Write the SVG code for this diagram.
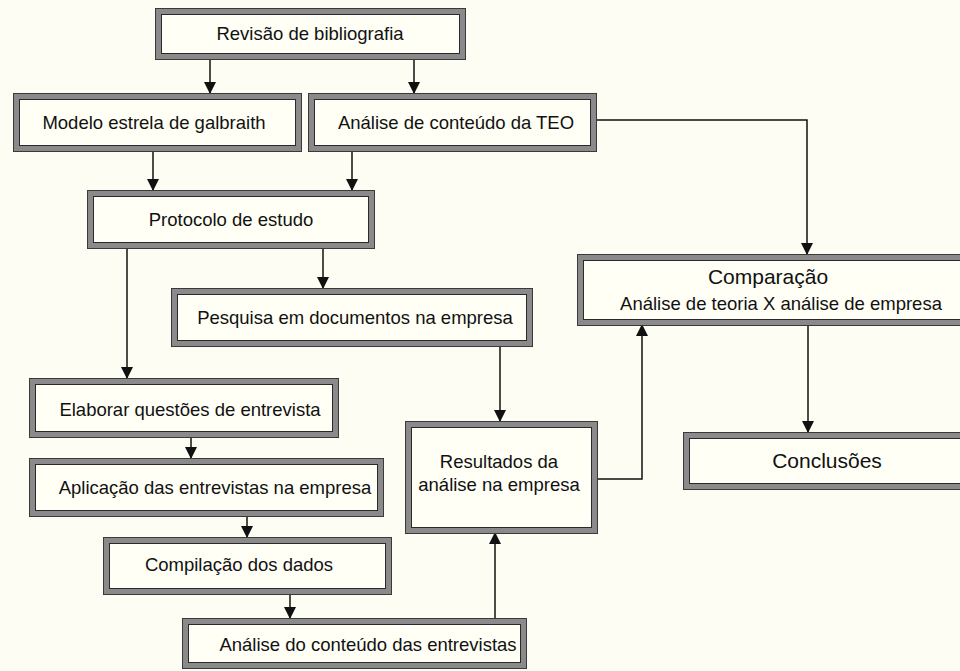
<svg xmlns="http://www.w3.org/2000/svg" width="960" height="671" viewBox="0 0 960 671">
<defs>
<marker id="arr" markerWidth="12" markerHeight="12" refX="11" refY="6" orient="auto" markerUnits="userSpaceOnUse">
<path d="M0,0 L12,6 L0,12 Z" fill="#111"/>
</marker>
</defs>
<style>
.outer{fill:#8a8a8a;stroke:#3a3a3a;stroke-width:1}
.inner{fill:#fffff6;stroke:#2a2a2a;stroke-width:1}
.t{font-family:"Liberation Sans",Arial,sans-serif;font-size:18.5px;fill:#111;text-anchor:middle}
.big{font-size:21px}
.c{fill:none;stroke:#111;stroke-width:1.5}
</style>
<rect x="0" y="0" width="960" height="671" fill="#fdfdf3"/>
<g id="connectors">
<line class="c" x1="210" y1="59" x2="210" y2="93" marker-end="url(#arr)"/>
<line class="c" x1="414" y1="59" x2="414" y2="93" marker-end="url(#arr)"/>
<line class="c" x1="153" y1="151" x2="153" y2="190" marker-end="url(#arr)"/>
<line class="c" x1="352" y1="151" x2="352" y2="190" marker-end="url(#arr)"/>
<polyline class="c" points="596,120 807,120 807,254" marker-end="url(#arr)"/>
<line class="c" x1="127" y1="248" x2="127" y2="378" marker-end="url(#arr)"/>
<line class="c" x1="323" y1="248" x2="323" y2="288" marker-end="url(#arr)"/>
<line class="c" x1="500" y1="346" x2="500" y2="421" marker-end="url(#arr)"/>
<polyline class="c" points="597,479 642,479 642,325" marker-end="url(#arr)"/>
<line class="c" x1="808" y1="325" x2="808" y2="432" marker-end="url(#arr)"/>
<line class="c" x1="191" y1="437" x2="191" y2="458" marker-end="url(#arr)"/>
<line class="c" x1="247" y1="516" x2="247" y2="537" marker-end="url(#arr)"/>
<line class="c" x1="290" y1="594" x2="290" y2="618" marker-end="url(#arr)"/>
<line class="c" x1="495" y1="618" x2="495" y2="533" marker-end="url(#arr)"/>
</g>
<g id="revisao">
<rect class="outer" x="155.5" y="8.5" width="310" height="51"/>
<rect class="inner" x="161.5" y="14.5" width="298" height="39"/>
<text class="t" x="310" y="40">Revisão de bibliografia</text>
</g>
<g id="modelo">
<rect class="outer" x="13.5" y="93.5" width="288" height="58"/>
<rect class="inner" x="19.5" y="99.5" width="276" height="46"/>
<text class="t" x="154" y="129">Modelo estrela de galbraith</text>
</g>
<g id="teo">
<rect class="outer" x="308.5" y="93.5" width="288" height="58"/>
<rect class="inner" x="314.5" y="99.5" width="276" height="46"/>
<text class="t" x="456" y="129">Análise de conteúdo da TEO</text>
</g>
<g id="protocolo">
<rect class="outer" x="87.5" y="190.5" width="287" height="58"/>
<rect class="inner" x="93.5" y="196.5" width="275" height="46"/>
<text class="t" x="231" y="226">Protocolo de estudo</text>
</g>
<g id="comparacao">
<rect class="outer" x="577.5" y="254.5" width="390" height="71"/>
<rect class="inner" x="583.5" y="260.5" width="378" height="59"/>
<text class="t big" x="768" y="284">Comparação</text>
<text class="t" x="781" y="310">Análise de teoria X análise de empresa</text>
</g>
<g id="pesquisa">
<rect class="outer" x="171.5" y="288.5" width="361" height="58"/>
<rect class="inner" x="177.5" y="294.5" width="349" height="46"/>
<text class="t" x="355" y="324">Pesquisa em documentos na empresa</text>
</g>
<g id="elaborar">
<rect class="outer" x="29.5" y="378.5" width="309" height="59"/>
<rect class="inner" x="35.5" y="384.5" width="297" height="47"/>
<text class="t" x="190" y="416">Elaborar questões de entrevista</text>
</g>
<g id="resultados">
<rect class="outer" x="405.5" y="421.5" width="192" height="112"/>
<rect class="inner" x="411.5" y="427.5" width="180" height="100"/>
<text class="t" x="499" y="468">Resultados da</text>
<text class="t" x="499" y="491">análise na empresa</text>
</g>
<g id="conclusoes">
<rect class="outer" x="683.5" y="432.5" width="284" height="57"/>
<rect class="inner" x="689.5" y="438.5" width="272" height="45"/>
<text class="t big" x="827" y="468">Conclusões</text>
</g>
<g id="aplicacao">
<rect class="outer" x="29.5" y="458.5" width="354" height="58"/>
<rect class="inner" x="35.5" y="464.5" width="342" height="46"/>
<text class="t" x="215" y="494">Aplicação das entrevistas na empresa</text>
</g>
<g id="compilacao">
<rect class="outer" x="103.5" y="537.5" width="288" height="57"/>
<rect class="inner" x="109.5" y="543.5" width="276" height="45"/>
<text class="t" x="239" y="571">Compilação dos dados</text>
</g>
<g id="analise-entrevistas">
<rect class="outer" x="182.5" y="618.5" width="344" height="50"/>
<rect class="inner" x="188.5" y="624.5" width="332" height="38"/>
<text class="t" x="368" y="651">Análise do conteúdo das entrevistas</text>
</g>
</svg>
